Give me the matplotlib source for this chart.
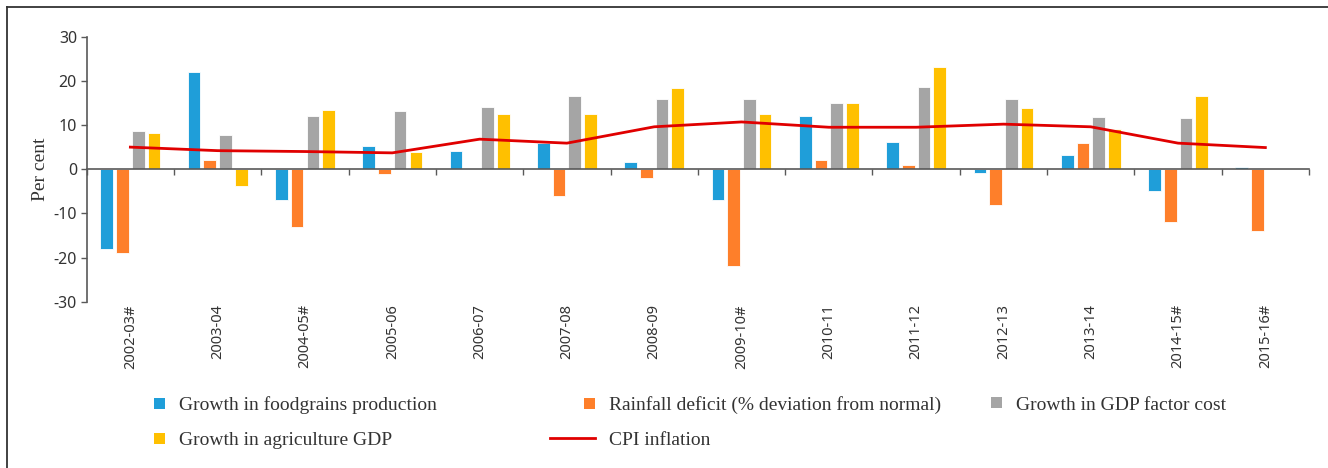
import matplotlib
matplotlib.use("Agg")
import matplotlib.pyplot as plt
from matplotlib.legend_handler import HandlerBase
from matplotlib.patches import Rectangle, Patch
from matplotlib.lines import Line2D
import numpy as np

plt.rcParams["axes.unicode_minus"] = False

years = ["2002-03#", "2003-04", "2004-05#", "2005-06", "2006-07", "2007-08", "2008-09",
         "2009-10#", "2010-11", "2011-12", "2012-13", "2013-14", "2014-15#", "2015-16#"]
foodgrains = [-18, 22, -7, 5.2, 4.1, 6.0, 1.6, -7, 12.1, 6.1, -0.8, 3.2, -4.9, 0.4]
rainfall = [-19, 2, -13, -1, 0, -6, -2, -22, 2, 1, -8, 6, -12, -14]
gdp_fc = [8.6, 7.7, 12.0, 13.2, 14.1, 16.5, 15.9, 15.8, 15.1, 18.7, 15.8, 11.9, 11.6, np.nan]
agri_gdp = [8.1, -3.8, 13.5, 3.8, 12.6, 12.6, 18.4, 12.6, 15.0, 23.1, 13.8, 9.0, 16.6, np.nan]
cpi = [5.0, 4.2, 4.0, 3.7, 6.8, 5.9, 9.6, 10.7, 9.5, 9.5, 10.2, 9.6, 5.9, 4.9]

series = [("Growth in foodgrains production", foodgrains, "#1f9ed9"),
          ("Rainfall deficit (% deviation from normal)", rainfall, "#fe7f2a"),
          ("Growth in GDP factor cost", gdp_fc, "#a5a5a5"),
          ("Growth in agriculture GDP", agri_gdp, "#ffc000")]

serif = ["Liberation Serif", "DejaVu Serif"]
txt = "#333333"

fig = plt.figure(figsize=(13.28, 4.68), dpi=100)
ax = fig.add_axes([0.0653, 0.3553, 0.9204, 0.5663])

x = np.arange(len(years))
pitch = 0.18
bw = 0.145
handles = {}
for k, (name, vals, col) in enumerate(series):
    ax.bar(x + (k - 1.5) * pitch, vals, bw, color=col, edgecolor="white",
           linewidth=0.6, zorder=2, label=name)
    handles[name] = Patch(facecolor=col)
ax.plot(x, cpi, color="#e00000", lw=2.0, zorder=3)

ax.set_xlim(-0.5, len(years) - 0.5)
ax.set_ylim(-30, 30)
ax.set_yticks(np.arange(-30, 31, 10))
for s in ["top", "right"]:
    ax.spines[s].set_visible(False)
ax.spines["bottom"].set_position(("data", 0))
for s in ["left", "bottom"]:
    ax.spines[s].set_color("#595959")
    ax.spines[s].set_linewidth(1.2)
ax.set_xticks(np.arange(-0.5, len(years), 1.0))
ax.set_xticklabels([])
ax.tick_params(axis="both", direction="out", length=4, width=1, color="#595959")
ax.tick_params(axis="y", labelsize=11.5, labelcolor=txt, pad=3)
for lab in ax.get_yticklabels():
    lab.set_family("Noto Sans")
for i, y in enumerate(years):
    ax.text(i, -30.6, y, rotation=90, ha="center", va="top", fontsize=10.5,
            family="Noto Sans", color=txt)
ax.set_ylabel("Per cent", family=serif, fontsize=14, color=txt, labelpad=3)


class SquareHandler(HandlerBase):
    def create_artists(self, legend, orig_handle, xdescent, ydescent, width, height, fontsize, trans):
        side = height * 0.8
        r = Rectangle((width - side - xdescent, (height - side) / 2 - ydescent), side, side,
                      facecolor=orig_handle.get_facecolor(), edgecolor="none", transform=trans)
        return [r]


cols = [(["Growth in foodgrains production", "Growth in agriculture GDP"], 120),
        (["Rainfall deficit (% deviation from normal)", "CPI inflation"], 550),
        (["Growth in GDP factor cost"], 957)]
W, H = fig.get_size_inches() * fig.dpi
for names, left in cols:
    hs = [handles[n] if n in handles else Line2D([], [], color="#e00000", lw=2.0) for n in names]
    leg = fig.legend(hs, names, loc="upper left", bbox_to_anchor=(left / W, 1 - 396 / H),
                     frameon=False, borderpad=0, borderaxespad=0, handlelength=2.3,
                     handletextpad=0.75, labelspacing=0.9,
                     prop={"family": serif, "size": 14},
                     handler_map={Patch: SquareHandler()})
    for t in leg.get_texts():
        t.set_color(txt)

# outer frame
fig.add_artist(Line2D([7 / W, 7 / W], [0, 1 - 7 / H], transform=fig.transFigure, color="#333333", lw=1.3))
fig.add_artist(Line2D([7 / W, 1], [1 - 7 / H, 1 - 7 / H], transform=fig.transFigure, color="#333333", lw=1.3))

fig.savefig("out.png", dpi=100)
